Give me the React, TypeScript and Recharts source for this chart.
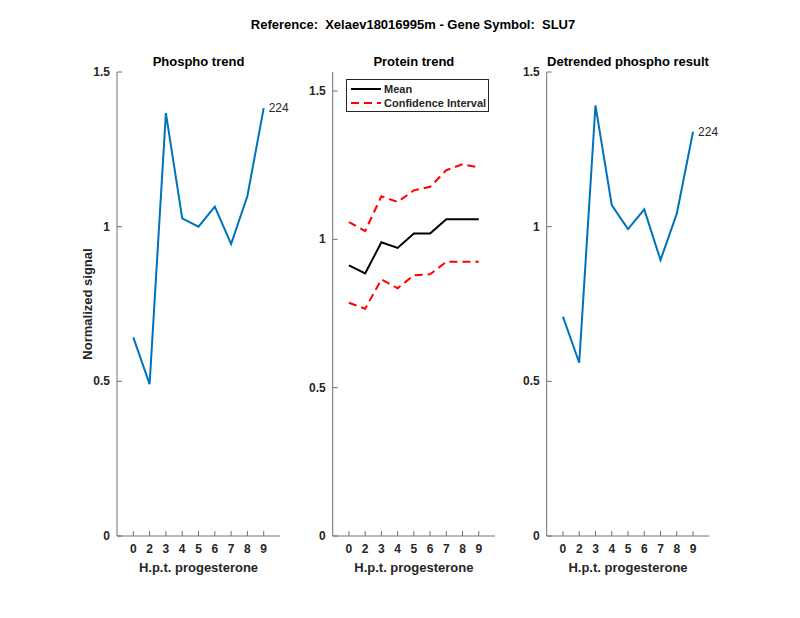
import React from 'react';
import { Legend, Line, LineChart, XAxis, YAxis } from 'recharts';

// hours post treatment, one point per time sample
const hours = [0, 2, 3, 4, 5, 6, 7, 8, 9];
const phospho = [0.642, 0.491, 1.367, 1.027, 1.0, 1.065, 0.944, 1.099, 1.383];
const proteinMean = [0.912, 0.885, 0.99, 0.971, 1.02, 1.02, 1.068, 1.068, 1.068];
const proteinUpper = [1.058, 1.028, 1.145, 1.126, 1.165, 1.177, 1.233, 1.253, 1.242];
const proteinLower = [0.786, 0.766, 0.865, 0.835, 0.879, 0.882, 0.924, 0.924, 0.924];
const detrended = [0.709, 0.56, 1.392, 1.07, 0.992, 1.056, 0.892, 1.042, 1.307];
const yTicks = [0, 0.5, 1, 1.5];
const peptideLabel = '224';

const data = hours.map((h, k) => ({
  pos: k + 1,
  hour: h,
  phospho: phospho[k],
  mean: proteinMean[k],
  upper: proteinUpper[k],
  lower: proteinLower[k],
  detrended: detrended[k],
}));

const FONT = '"Liberation Sans", Arial, Helvetica, sans-serif';
const AXIS = '#707070';
const TEXT = '#262626';
const BLUE = '#0072BD';

const XTick = (props: any) => {
  const { x, y, payload } = props;
  return (
    <g>
      <line x1={x} x2={x} y1={y} y2={y - 5} stroke={AXIS} strokeWidth={1} />
      <text x={x} y={y + 17} textAnchor="middle" fontSize={12} fontWeight="bold" fill={TEXT} fontFamily={FONT}>
        {hours[payload.value - 1]}
      </text>
    </g>
  );
};

const YTick = (props: any) => {
  const { x, y, payload } = props;
  return (
    <g>
      <line x1={x + 7} x2={x + 12} y1={y} y2={y} stroke={AXIS} strokeWidth={1} />
      <text x={x} y={y + 4} textAnchor="end" fontSize={12} fontWeight="bold" fill={TEXT} fontFamily={FONT}>
        {payload.value}
      </text>
    </g>
  );
};

const endLabel = (props: any) => {
  const { x, y, index } = props;
  if (index !== data.length - 1) return null;
  return (
    <text x={x + 5} y={y + 4} fontSize={12} fill={TEXT} fontFamily={FONT}>
      {peptideLabel}
    </text>
  );
};

const LegendBox = () => (
  <div
    style={{
      border: '1px solid #262626',
      background: '#fff',
      width: 141,
      height: 31,
      position: 'relative',
    }}
  >
    <svg width={141} height={31} style={{ position: 'absolute', left: 0, top: 0 }}>
      <line x1={4} x2={34} y1={9} y2={9} stroke="#000" strokeWidth={2} />
      <line x1={4} x2={34} y1={23} y2={23} stroke="#ff0000" strokeWidth={2} strokeDasharray="8 5" />
      <text x={37} y={13} fontSize={11} fontWeight="bold" fill={TEXT} fontFamily={FONT}>Mean</text>
      <text x={37} y={27} fontSize={11} fontWeight="bold" fill={TEXT} fontFamily={FONT}>Confidence Interval</text>
    </svg>
  </div>
);

type PanelProps = {
  left: number;
  marginLeft: number;
  marginRight: number;
  yMax: number;
  title: string;
  yLabel?: string;
  children: React.ReactNode;
};

const W = 240;

const Panel = ({ left, marginLeft, marginRight, yMax, title, yLabel, children }: PanelProps) => {
  const plotLeft = left + marginLeft + 40;
  const plotRight = left + W - marginRight;
  return (
    <>
      <div
        style={{
          position: 'absolute',
          left: plotLeft - 60,
          width: plotRight - plotLeft + 120,
          top: 54,
          textAlign: 'center',
          fontFamily: FONT,
          fontSize: 13,
          fontWeight: 'bold',
          color: '#000',
        }}
      >
        {title}
      </div>
      <div style={{ position: 'absolute', left, top: 0 }}>
        <LineChart width={W} height={618} data={data} margin={{ top: 72, right: marginRight, left: marginLeft, bottom: 42 }}>
          <XAxis
            dataKey="pos"
            type="number"
            domain={[0, 10]}
            ticks={[1, 2, 3, 4, 5, 6, 7, 8, 9]}
            height={40}
            tickSize={0}
            tickMargin={0}
            tickLine={false}
            tick={<XTick />}
            stroke={AXIS}
            interval={0}
            label={{ value: 'H.p.t. progesterone', position: 'insideBottom', offset: 4, fill: TEXT, fontSize: 13, fontWeight: 'bold', fontFamily: FONT }}
          />
          <YAxis
            type="number"
            domain={[0, yMax]}
            ticks={yTicks}
            width={40}
            tickSize={0}
            tickMargin={7}
            tickLine={false}
            tick={<YTick />}
            stroke={AXIS}
            allowDataOverflow
            label={
              yLabel
                ? { value: yLabel, angle: -90, position: 'insideLeft', offset: 10, fill: TEXT, fontSize: 13, fontWeight: 'bold', fontFamily: FONT, style: { textAnchor: 'middle' } }
                : undefined
            }
          />
          {children}
        </LineChart>
      </div>
    </>
  );
};

export default function App() {
  return (
    <div style={{ position: 'absolute', left: 0, top: 0, width: 800, height: 618, background: '#fff', overflow: 'hidden' }}>
      <div
        style={{
          position: 'absolute',
          left: 13,
          width: 800,
          top: 17,
          textAlign: 'center',
          fontFamily: FONT,
          fontSize: 13,
          fontWeight: 'bold',
          color: '#000',
          whiteSpace: 'pre',
        }}
      >
        {'Reference:  Xelaev18016995m - Gene Symbol:  SLU7'}
      </div>

      <Panel left={60} marginLeft={17} marginRight={20} yMax={1.5} title="Phospho trend" yLabel="Normalized signal">
        <Line dataKey="phospho" stroke={BLUE} strokeWidth={2} dot={false} isAnimationActive={false} label={endLabel} />
      </Panel>

      <Panel left={275} marginLeft={17.7} marginRight={20} yMax={1.564} title="Protein trend">
        <Line dataKey="mean" stroke="#000" strokeWidth={2} dot={false} isAnimationActive={false} />
        <Line dataKey="upper" stroke="#ff0000" strokeWidth={2} strokeDasharray="8 5" dot={false} isAnimationActive={false} />
        <Line dataKey="lower" stroke="#ff0000" strokeWidth={2} strokeDasharray="8 5" dot={false} isAnimationActive={false} />
        <Legend
          layout="vertical"
          align="center"
          verticalAlign="middle"
          content={<LegendBox />}
          wrapperStyle={{ position: 'absolute', left: 71, top: 79, width: 143 }}
        />
      </Panel>

      <Panel left={490} marginLeft={16.7} marginRight={20.7} yMax={1.5} title="Detrended phospho result">
        <Line dataKey="detrended" stroke={BLUE} strokeWidth={2} dot={false} isAnimationActive={false} label={endLabel} />
      </Panel>
    </div>
  );
}
